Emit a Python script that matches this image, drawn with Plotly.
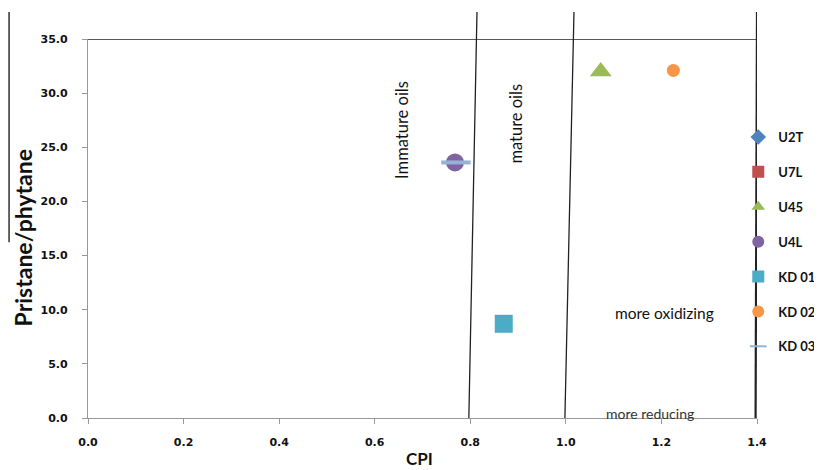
import plotly.graph_objects as go

# ---- data ----
series_names = ["U2T", "U7L", "U45", "U4L", "KD 01", "KD 02", "KD 03"]
cpi_values = [None, None, 1.073, 0.768, 0.870, 1.225, 0.770]
pr_ph_values = [None, None, 32.0, 23.6, 8.7, 32.1, 23.6]
x_ticks = [0.0, 0.2, 0.4, 0.6, 0.8, 1.0, 1.2, 1.4]
y_ticks = [0.0, 5.0, 10.0, 15.0, 20.0, 25.0, 30.0, 35.0]
# boundary lines (CPI at bottom, CPI at top)
boundary_bottom = [0.797, 0.998, 1.397]
boundary_top = [0.814, 1.017, 1.400]
boundary_widths = [1.3, 1.3, 2.2]

colors = ["#4F81BD", "#C0504D", "#9BBB59", "#8064A2", "#4BACC6", "#F79646", "#95B3D7"]
symbols = ["diamond", "square", "triangle-up", "circle", "square", "circle", "line-ew"]
sizes = [12, 14, 19, 18, 18, 13, 21]

fig = go.Figure()
for i, name in enumerate(series_names):
    if symbols[i] == "line-ew":
        marker = dict(symbol="line-ew", size=sizes[i], line=dict(color=colors[i], width=4), color=colors[i])
    else:
        marker = dict(symbol=symbols[i], size=sizes[i], color=colors[i], line=dict(width=0))
    fig.add_trace(go.Scatter(
        x=[cpi_values[i]], y=[pr_ph_values[i]], mode="markers", name=name,
        marker=marker, legendgroup=name, cliponaxis=False,
    ))

shapes = []
for xb, xt, w in zip(boundary_bottom, boundary_top, boundary_widths):
    shapes.append(dict(type="line", xref="x", yref="paper", x0=xb, y0=0, x1=xt, y1=1.071,
                       line=dict(color="#222222", width=w)))
# top border line at y=35
shapes.append(dict(type="line", xref="x", yref="y", x0=0, y0=35, x1=1.4, y1=35,
                   line=dict(color="#222222", width=1.3)))
# decorative left line
shapes.append(dict(type="line", xref="paper", yref="paper", x0=-0.118, y0=0.464, x1=-0.118, y1=1.071,
                   line=dict(color="#111111", width=1.3)))

ann_font = dict(family="Lato", size=16.5, color="#111111")
annotations = [
    dict(x=0.657, y=26.6, text="Immature oils", textangle=-90, showarrow=False, font=ann_font),
    dict(x=0.896, y=27.2, text="mature oils", textangle=-90, showarrow=False, font=ann_font),
    dict(x=1.207, y=9.7, text="more oxidizing", showarrow=False,
         font=dict(family="Lato", size=15.5, color="#111111")),
    dict(x=1.176, y=0.45, text="more reducing", showarrow=False,
         font=dict(family="Lato", size=14, color="#333333")),
    dict(xref="paper", yref="paper", x=0.496, y=-0.108, xanchor="center", yanchor="middle",
         text="CPI", showarrow=False,
         font=dict(family="Lato", size=17, color="#111111", weight="bold")),
    dict(xref="paper", yref="paper", x=-0.0965, y=0.475, xanchor="center", yanchor="middle",
         text="Pristane/phytane", textangle=-90,
         showarrow=False, font=dict(family="Lato", size=23, color="#111111", weight="bold")),
]

tick_font = dict(family="DejaVu Sans", size=11, color="#111111", weight="bold")
# page body has an 8px margin, so the figure is sized 8px smaller and margins shifted
fig.update_layout(
    width=814, height=462,
    margin=dict(l=80, r=65, t=31, b=52, autoexpand=False),
    plot_bgcolor="white", paper_bgcolor="white",
    shapes=shapes, annotations=annotations,
    xaxis=dict(range=[0, 1.4], tickvals=x_ticks, tickformat=".1f", showgrid=False, zeroline=False,
               showline=True, linecolor="#999999", linewidth=1.3, ticks="outside", ticklen=5,
               tickcolor="#999999", tickfont=tick_font, ticklabelstandoff=9, automargin=False),
    yaxis=dict(range=[0, 35], tickvals=y_ticks, tickformat=".1f", showgrid=False, zeroline=False,
               showline=True, linecolor="#999999", linewidth=1.3, ticks="outside", ticklen=5,
               tickcolor="#999999", tickfont=tick_font, ticklabelstandoff=12, automargin=False),
    legend=dict(x=0.972, y=0.781, xanchor="left", yanchor="top", tracegroupgap=15,
                font=dict(family="Lato", size=13, color="#111111", weight="bold"),
                bgcolor="rgba(0,0,0,0)", itemwidth=30, itemsizing="constant"),
    showlegend=True,
)
fig.write_html("out.html")
